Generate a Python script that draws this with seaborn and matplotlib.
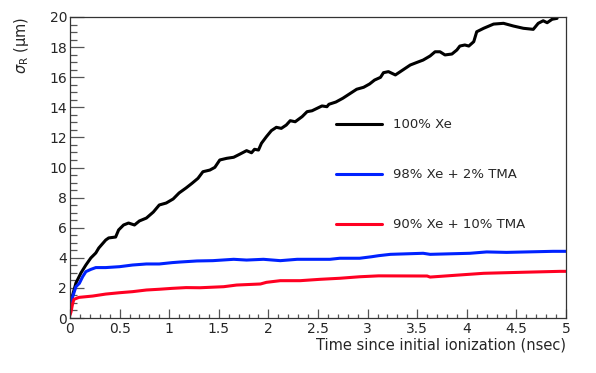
import pandas as pd
import matplotlib
matplotlib.use("Agg")
import matplotlib.pyplot as plt
from matplotlib.ticker import MultipleLocator
import seaborn as sns

# %%
# Data
black_x = [0.0, 0.027, 0.06, 0.11, 0.16, 0.21, 0.26, 0.29, 0.36, 0.39, 0.46, 0.49, 0.54, 0.59, 0.65, 0.70,
           0.77, 0.84, 0.90, 0.97, 1.04, 1.10, 1.17, 1.23, 1.29, 1.34, 1.41, 1.46, 1.51, 1.58, 1.65, 1.71,
           1.78, 1.83, 1.86, 1.90, 1.93, 1.98, 2.03, 2.08, 2.13, 2.18, 2.22, 2.27, 2.34, 2.39, 2.44, 2.49,
           2.54, 2.59, 2.61, 2.68, 2.75, 2.82, 2.89, 2.96, 3.02, 3.07, 3.13, 3.16, 3.21, 3.28, 3.33, 3.38,
           3.43, 3.50, 3.56, 3.63, 3.68, 3.73, 3.78, 3.85, 3.90, 3.93, 3.98, 4.02, 4.07, 4.10, 4.17, 4.27,
           4.37, 4.47, 4.57, 4.67, 4.72, 4.77, 4.81, 4.86, 4.91]
black_y = [0.6, 1.53, 2.33, 2.99, 3.52, 3.99, 4.32, 4.65, 5.18, 5.32, 5.38, 5.85, 6.18, 6.31, 6.18, 6.45,
           6.64, 7.04, 7.51, 7.64, 7.91, 8.31, 8.64, 8.95, 9.28, 9.72, 9.83, 10.01, 10.50, 10.61, 10.68, 10.88,
           11.12, 10.98, 11.21, 11.16, 11.61, 12.05, 12.45, 12.67, 12.60, 12.82, 13.11, 13.04, 13.38, 13.71, 13.77, 13.93,
           14.09, 14.04, 14.20, 14.35, 14.6, 14.9, 15.20, 15.33, 15.55, 15.81, 15.99, 16.30, 16.37, 16.15, 16.37, 16.59,
           16.81, 16.99, 17.14, 17.41, 17.69, 17.69, 17.48, 17.54, 17.81, 18.07, 18.14, 18.07, 18.36, 19.02, 19.25, 19.53,
           19.58, 19.40, 19.25, 19.18, 19.58, 19.75, 19.62, 19.85, 19.91]

blue_x = [0.0, 0.027, 0.06, 0.094, 0.128, 0.16, 0.21, 0.26, 0.36, 0.50, 0.63, 0.77, 0.90, 1.03, 1.11, 1.28,
          1.44, 1.65, 1.78, 1.95, 2.12, 2.29, 2.45, 2.62, 2.72, 2.92, 3.04, 3.11, 3.23, 3.56, 3.63, 4.03,
          4.20, 4.40, 4.87, 5.0]
blue_y = [0.9, 1.42, 2.08, 2.30, 2.75, 3.08, 3.23, 3.35, 3.35, 3.41, 3.52, 3.59, 3.59, 3.68, 3.72, 3.79,
          3.81, 3.90, 3.85, 3.90, 3.81, 3.90, 3.90, 3.90, 3.97, 3.97, 4.07, 4.14, 4.23, 4.30, 4.23, 4.30,
          4.39, 4.36, 4.43, 4.43]

red_x = [0.0, 0.01, 0.027, 0.04, 0.09, 0.23, 0.36, 0.50, 0.63, 0.77, 0.90, 1.03, 1.17, 1.31, 1.55, 1.68,
         1.92, 1.98, 2.12, 2.32, 2.52, 2.72, 2.92, 3.11, 3.60, 3.63, 3.93, 4.17, 4.57, 4.94, 5.0]
red_y = [0.2, 0.4, 0.97, 1.24, 1.37, 1.46, 1.59, 1.68, 1.75, 1.86, 1.91, 1.97, 2.02, 2.01, 2.08, 2.19,
         2.26, 2.37, 2.48, 2.48, 2.57, 2.64, 2.74, 2.80, 2.79, 2.72, 2.86, 2.97, 3.04, 3.10, 3.10]

labels = ["100% Xe", "98% Xe + 2% TMA", "90% Xe + 10% TMA"]
colors = ["#000000", "#0022ff", "#ff0022"]

# %%
# Build one long table for seaborn
df = pd.concat([
    pd.DataFrame({"t": black_x, "sigma": black_y, "gas": labels[0]}),
    pd.DataFrame({"t": blue_x, "sigma": blue_y, "gas": labels[1]}),
    pd.DataFrame({"t": red_x, "sigma": red_y, "gas": labels[2]}),
], ignore_index=True)

# %%
sns.set_style("ticks")
plt.rcParams["font.family"] = ["DejaVu Sans"]
plt.rcParams["mathtext.fontset"] = "dejavusans"

fig = plt.figure(figsize=(5.96, 3.73), dpi=100)
ax = fig.add_axes([70 / 596, 1 - 318 / 373, 496 / 596, 301 / 373])

sns.lineplot(data=df, x="t", y="sigma", hue="gas", palette=dict(zip(labels, colors)),
             sort=False, estimator=None, linewidth=2.2, ax=ax)

ax.set_xlim(0, 5)
ax.set_ylim(0, 20)
ax.xaxis.set_minor_locator(MultipleLocator(0.1))
ax.yaxis.set_major_locator(MultipleLocator(2))
ax.yaxis.set_minor_locator(MultipleLocator(0.5))
ax.set_xticks([0, 0.5, 1, 1.5, 2, 2.5, 3, 3.5, 4, 4.5, 5])
ax.set_xticklabels(["0", "0.5", "1", "1.5", "2", "2.5", "3", "3.5", "4", "4.5", "5"])

for s in ax.spines.values():
    s.set_linewidth(0.9)
    s.set_color("#333333")
ax.tick_params(axis="both", which="both", direction="in", color="#555555", width=0.9,
               labelsize=10, top=False, right=False)
ax.tick_params(axis="x", which="major", length=6.5, pad=3)
ax.tick_params(axis="x", which="minor", length=3.2)
ax.tick_params(axis="y", which="major", length=10, pad=2)
ax.tick_params(axis="y", which="minor", length=5)

ax.set_xlabel("Time since initial ionization (nsec)", fontsize=10.5, loc="right", labelpad=1)
ax.set_ylabel(r"$\sigma_{\rm R}$ (μm)", fontsize=10.5, loc="top")
ax.yaxis.set_label_coords(-0.078, 1.0)

ax.legend(loc="upper left", bbox_to_anchor=(0.536, 0.663), frameon=False, fontsize=9.5,
          handlelength=3.5, handletextpad=0.85, labelspacing=2.8, borderpad=0, borderaxespad=0)

fig.savefig("out.png", dpi=100)
